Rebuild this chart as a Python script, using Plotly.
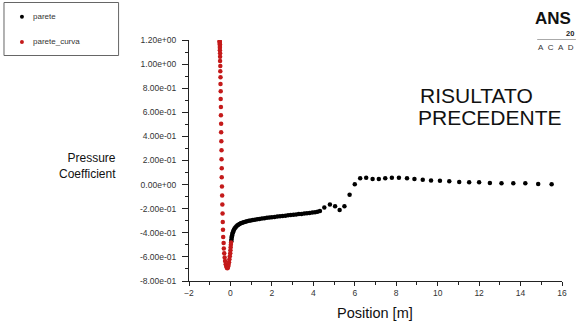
import plotly.graph_objects as go

# ---- data -------------------------------------------------------------
# wall ("parete") pressure coefficient vs position
parete_x = [0.04, 0.05, 0.06, 0.07, 0.08, 0.10, 0.12, 0.14, 0.17, 0.20,
            0.24, 0.28, 0.33, 0.38, 0.44, 0.50, 0.57, 0.64, 0.72, 0.80,
            0.89, 0.98, 1.08, 1.18, 1.29, 1.40, 1.52, 1.64, 1.76, 1.88,
            2.00, 2.13, 2.26, 2.39, 2.52, 2.65, 2.78, 2.91, 3.04, 3.17,
            3.30, 3.43, 3.56, 3.69, 3.82, 3.95, 4.08, 4.20, 4.32,
            4.53, 4.80, 5.05, 5.27, 5.50, 5.75, 6.00, 6.26, 6.55, 6.86,
            7.16, 7.47, 7.79, 8.13, 8.52, 8.88, 9.28, 9.68, 10.11, 10.56,
            11.04, 11.52, 12.00, 12.52, 13.08, 13.65, 14.23, 14.85, 15.50]
parete_y = [-0.470, -0.455, -0.440, -0.430, -0.420, -0.405, -0.395, -0.385, -0.375, -0.365,
            -0.356, -0.348, -0.340, -0.333, -0.327, -0.321, -0.316, -0.312, -0.308, -0.304,
            -0.300, -0.297, -0.294, -0.291, -0.288, -0.285, -0.282, -0.279, -0.276, -0.273,
            -0.270, -0.268, -0.265, -0.263, -0.260, -0.258, -0.255, -0.253, -0.250, -0.248,
            -0.245, -0.243, -0.240, -0.238, -0.235, -0.232, -0.229, -0.225, -0.219,
            -0.190, -0.165, -0.180, -0.210, -0.180, -0.085, 0.003, 0.052, 0.057, 0.046,
            0.046, 0.052, 0.057, 0.057, 0.052, 0.046, 0.041, 0.035, 0.032, 0.027,
            0.022, 0.019, 0.019, 0.013, 0.011, 0.011, 0.011, 0.005, 0.002]

# curved wall ("parete_curva") pressure coefficient vs position
curva_x = [-0.52, -0.52, -0.52, -0.51, -0.51, -0.51, -0.51, -0.50, -0.50, -0.50,
           -0.49, -0.49, -0.48, -0.48, -0.47, -0.47, -0.46, -0.46, -0.45, -0.45,
           -0.44, -0.43, -0.43, -0.42, -0.42, -0.41, -0.40, -0.39, -0.38, -0.37,
           -0.36, -0.35, -0.33, -0.32, -0.30, -0.28, -0.26, -0.23, -0.20, -0.17,
           -0.15, -0.13, -0.11, -0.09, -0.07, -0.05, -0.03, -0.01, 0.00, 0.01,
           0.02, 0.03]
curva_y = [1.190, 1.185, 1.175, 1.165, 1.150, 1.135, 1.115, 1.090, 1.060, 1.025,
           0.985, 0.940, 0.890, 0.835, 0.775, 0.710, 0.645, 0.575, 0.505, 0.435,
           0.360, 0.285, 0.210, 0.135, 0.060, -0.015, -0.090, -0.165, -0.240, -0.310,
           -0.375, -0.435, -0.485, -0.530, -0.570, -0.605, -0.635, -0.660, -0.680, -0.690,
           -0.695, -0.690, -0.680, -0.665, -0.645, -0.620, -0.595, -0.570, -0.545, -0.520,
           -0.500, -0.480]

y_tick_vals = [1.2, 1.0, 0.8, 0.6, 0.4, 0.2, 0.0, -0.2, -0.4, -0.6, -0.8]
y_tick_text = ["1.20e+00", "1.00e+00", "8.00e-01", "6.00e-01", "4.00e-01", "2.00e-01",
               "0.00e+00", "-2.00e-01", "-4.00e-01", "-6.00e-01", "-8.00e-01"]
x_tick_vals = [-2, 0, 2, 4, 6, 8, 10, 12, 14, 16]

# ---- layout geometry (pixels) ------------------------------------------
W, H = 579, 329
L, R, T, B = 189, 14, 40, 48
PW, PH = W - L - R, H - T - B


def px(x):
    return (x - L) / PW


def py(y):
    return (H - B - y) / PH


FONT = "Liberation Sans, Arial, sans-serif"
RED = "#c41a1a"
NB2 = "\u00a0\u00a0"

fig = go.Figure()
fig.add_trace(go.Scatter(x=parete_x, y=parete_y, mode="markers", name="parete",
                         marker=dict(color="black", size=4.5), showlegend=False))
fig.add_trace(go.Scatter(x=curva_x, y=curva_y, mode="markers", name="parete_curva",
                         marker=dict(color=RED, size=4.5), showlegend=False))

axis_common = dict(showgrid=False, zeroline=False, showline=True, linecolor="#222",
                   linewidth=1, ticks="outside", tickcolor="#222")

fig.update_xaxes(range=[-2, 16], tickvals=x_tick_vals, ticklen=4,
                 tickfont=dict(family=FONT, size=8.5, color="#333"),
                 minor=dict(dtick=1, ticks="outside", ticklen=3, tickcolor="#222"),
                 **axis_common)
fig.update_yaxes(range=[-0.8, 1.2], tickvals=y_tick_vals, ticktext=y_tick_text,
                 ticklen=6, ticklabelstandoff=4,
                 tickfont=dict(family=FONT, size=8.5, color="#333"),
                 minor=dict(dtick=0.1, ticks="outside", ticklen=3, tickcolor="#222"),
                 **axis_common)

annotations = [
    dict(text="Pressure<br>Coefficient", x=px(116), y=py(166), xanchor="right",
         yanchor="middle", align="right", font=dict(family=FONT, size=12, color="#111")),
    dict(text="Position [m]", x=px(376), y=py(313), xanchor="center", yanchor="middle",
         font=dict(family=FONT, size=14.5, color="#111")),
    dict(text="RISULTATO", x=px(421), y=py(95), xanchor="left", yanchor="middle",
         font=dict(family=FONT, size=21, color="#111")),
    dict(text="PRECEDENTE", x=px(419), y=py(117), xanchor="left", yanchor="middle",
         font=dict(family=FONT, size=21, color="#111")),
    # legend entries
    dict(text="parete", x=px(31), y=py(17), xanchor="left", yanchor="middle",
         font=dict(family=FONT, size=8, color="#333")),
    dict(text="parete_curva", x=px(31), y=py(42), xanchor="left", yanchor="middle",
         font=dict(family=FONT, size=8, color="#333")),
    # logo (visible part at the right edge)
    dict(text="<b>ANS</b>", x=px(537), y=py(18), xanchor="left", yanchor="middle",
         font=dict(family=FONT, size=17, color="#111")),
    dict(text="<b>20</b>", x=px(568), y=py(33), xanchor="left", yanchor="middle",
         font=dict(family=FONT, size=7.5, color="#222")),
    dict(text=NB2.join("ACAD"), x=px(540), y=py(47), xanchor="left", yanchor="middle",
         font=dict(family=FONT, size=8, color="#333")),
]
for a in annotations:
    a.update(xref="paper", yref="paper", showarrow=False, borderpad=0)

shapes = [
    # legend frame
    dict(type="rect", x0=px(2.5), x1=px(118), y0=py(2.5), y1=py(55.5),
         line=dict(color="#666", width=1), fillcolor="white", layer="below"),
    # legend markers
    dict(type="circle", x0=px(18.6), x1=px(22.6), y0=py(14.7), y1=py(18.7),
         line=dict(width=0), fillcolor="black"),
    dict(type="circle", x0=px(18.6), x1=px(22.6), y0=py(40), y1=py(44),
         line=dict(width=0), fillcolor=RED),
    # logo rule
    dict(type="line", x0=px(540), x1=px(579), y0=py(39.5), y1=py(39.5),
         line=dict(color="#aaa", width=1)),
]
for s in shapes:
    s.update(xref="paper", yref="paper")

fig.update_layout(width=W, height=H, margin=dict(l=L, r=R, t=T, b=B),
                  paper_bgcolor="white", plot_bgcolor="white",
                  annotations=annotations, shapes=shapes)

fig.write_html("out.html")
